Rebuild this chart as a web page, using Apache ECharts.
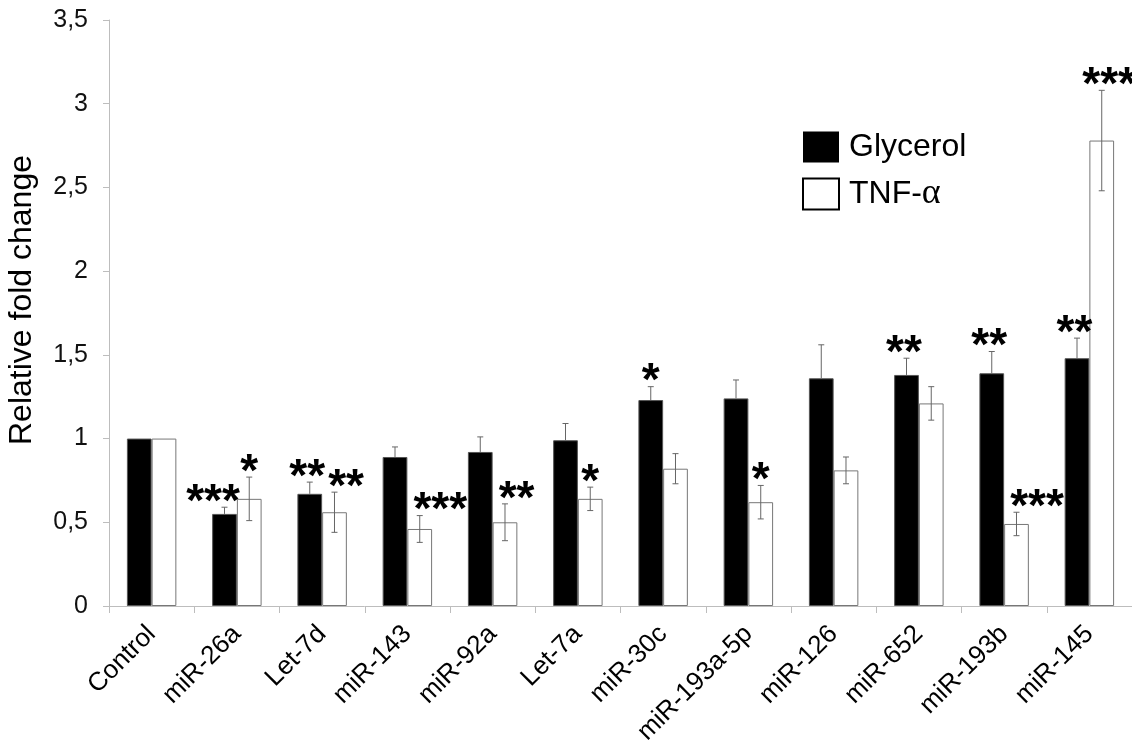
<!DOCTYPE html>
<html>
<head>
<meta charset="utf-8">
<script src="https://cdn.jsdelivr.net/npm/echarts@6/dist/echarts.min.js"></script>
<style>
html,body{margin:0;padding:0;background:#fff;}
#c{width:1132px;height:750px;}
</style>
</head>
<body>
<div id="c"></div>
<script>
var categories = ['Control','miR-26a','Let-7d','miR-143','miR-92a','Let-7a','miR-30c','miR-193a-5p','miR-126','miR-652','miR-193b','miR-145'];
var glycerol    = [1.00, 0.55, 0.67, 0.89, 0.92, 0.99, 1.23, 1.24, 1.36, 1.38, 1.39, 1.48];
var glycerolErr = [0,    0.04, 0.07, 0.06, 0.09, 0.10, 0.08, 0.11, 0.20, 0.10, 0.13, 0.12];
var tnf         = [1.00, 0.64, 0.56, 0.46, 0.50, 0.64, 0.82, 0.62, 0.81, 1.21, 0.49, 2.78];
var tnfErr      = [0,    0.13, 0.12, 0.08, 0.11, 0.07, 0.09, 0.10, 0.08, 0.10, 0.07, 0.30];
var glycerolSig = ['', '***', '**', '', '', '', '*', '', '', '**', '**', '**'];
var tnfSig      = ['', '*', '**', '***', '**', '*', '', '*', '', '', '***', '***'];
var yTicks = [0, 0.5, 1, 1.5, 2, 2.5, 3, 3.5];

var BAR_FRAC = 0.29;
var FONT = '"Liberation Sans", Arial, sans-serif';
var STAR_FONT = 'bold 46px ' + FONT;
var CW = 1132;

var mctx = document.createElement('canvas').getContext('2d');
mctx.font = STAR_FONT;
function textW(t){ return mctx.measureText(t).width; }

var chart = echarts.init(document.getElementById('c'), null, {renderer:'canvas'});

function errRender(vals, errs, side, both){
  return function(params, api){
    var i = params.dataIndex;
    if (!errs[i]) return null;
    var band = api.size([1,0])[0];
    var half = band*BAR_FRAC/2;
    var c = api.coord([i, vals[i]]);
    var x = c[0] + side*half;
    var yTop = api.coord([i, vals[i]+errs[i]])[1];
    var yBot = both ? api.coord([i, vals[i]-errs[i]])[1] : c[1];
    var cap = 3;
    var st = {stroke:'#666', lineWidth:1};
    var kids = [
      {type:'line', shape:{x1:x, y1:yTop, x2:x, y2:yBot}, style:st},
      {type:'line', shape:{x1:x-cap, y1:yTop, x2:x+cap, y2:yTop}, style:st}
    ];
    if (both) kids.push({type:'line', shape:{x1:x-cap, y1:yBot, x2:x+cap, y2:yBot}, style:st});
    return {type:'group', children:kids};
  };
}

function sigRender(vals, errs, sigs, side){
  return function(params, api){
    var i = params.dataIndex;
    var s = sigs[i];
    if (!s) return null;
    var band = api.size([1,0])[0];
    var half = band*BAR_FRAC/2;
    var c = api.coord([i, vals[i]]);
    var center = c[0];
    var barC = center + side*half;
    var yTop = api.coord([i, vals[i]+errs[i]])[1];
    var w = textW(s);
    var x, align;
    if (s.length === 1) { x = barC; align = 'center'; }
    else if (side < 0) { x = center + 3; align = 'right'; }
    else {
      var left = center + 6;
      if (left + w > CW + 4) left = CW + 4 - w;
      x = left; align = 'left';
    }
    return {type:'text', style:{text:s, x:x, y:yTop - 4, align:align, verticalAlign:'middle', font:STAR_FONT, fill:'#000'}};
  };
}

var option = {
  animation:false,
  backgroundColor:'#fff',
  grid:{left:109, right:-6, top:20, bottom:144, containLabel:false},
  legend:{
    orient:'vertical', left:797, top:126, itemWidth:36, itemHeight:31, itemGap:13,
    icon:'rect',
    data:[
      {name:'Glycerol', itemStyle:{color:'#000', borderWidth:0}},
      {name:'TNF-\u03b1', itemStyle:{color:'#fff', borderColor:'#000', borderWidth:2}}
    ],
    formatter:function(n){ return n === 'TNF-\u03b1' ? 'TNF-{a|\u03b1}' : n; },
    textStyle:{fontFamily:FONT, fontSize:32, color:'#000', padding:[0,0,0,5],
      rich:{a:{fontFamily:'"Liberation Serif", "DejaVu Serif", serif', fontSize:36, color:'#000'}}}
  },
  xAxis:{
    type:'category', data:categories,
    axisLine:{lineStyle:{color:'#bdbdbd', width:1}},
    axisTick:{show:true, length:7, lineStyle:{color:'#bdbdbd'}},
    axisLabel:{rotate:45, interval:0, margin:24, fontFamily:FONT, fontSize:26, color:'#000'}
  },
  yAxis:{
    type:'value', min:0, max:3.5, interval:0.5,
    splitLine:{show:false},
    axisLine:{show:true, lineStyle:{color:'#bdbdbd', width:1}},
    axisTick:{show:true, length:6, lineStyle:{color:'#bdbdbd'}},
    axisLabel:{margin:21, fontFamily:FONT, fontSize:25, color:'#111',
      formatter:function(v){ return String(v).replace('.', ','); }}
  },
  graphic:[{
    type:'text', x:22, y:300, rotation:Math.PI/2,
    style:{text:'Relative fold change', font:'32px ' + FONT, fill:'#000', align:'center', verticalAlign:'middle'}
  }],
  series:[
    {name:'Glycerol', type:'bar', data:glycerol, barWidth:(BAR_FRAC*100)+'%', barGap:'0%',
      itemStyle:{color:'#000', borderColor:'#555', borderWidth:1}},
    {name:'TNF-\u03b1', type:'bar', data:tnf, barWidth:(BAR_FRAC*100)+'%', barGap:'0%',
      itemStyle:{color:'#fff', borderColor:'#777', borderWidth:1}},
    {type:'custom', renderItem:errRender(glycerol, glycerolErr, -1, false),
      data:categories.map(function(c,i){return [i, glycerol[i]+glycerolErr[i]];}), encode:{x:0,y:1}, z:5, silent:true},
    {type:'custom', renderItem:errRender(tnf, tnfErr, 1, true),
      data:categories.map(function(c,i){return [i, tnf[i]+tnfErr[i]];}), encode:{x:0,y:1}, z:5, silent:true},
    {type:'custom', renderItem:sigRender(glycerol, glycerolErr, glycerolSig, -1), clip:false,
      data:categories.map(function(c,i){return [i, glycerol[i]+glycerolErr[i]];}), encode:{x:0,y:1}, z:6, silent:true},
    {type:'custom', renderItem:sigRender(tnf, tnfErr, tnfSig, 1), clip:false,
      data:categories.map(function(c,i){return [i, tnf[i]+tnfErr[i]];}), encode:{x:0,y:1}, z:6, silent:true}
  ]
};
chart.setOption(option);
</script>
</body>
</html>
